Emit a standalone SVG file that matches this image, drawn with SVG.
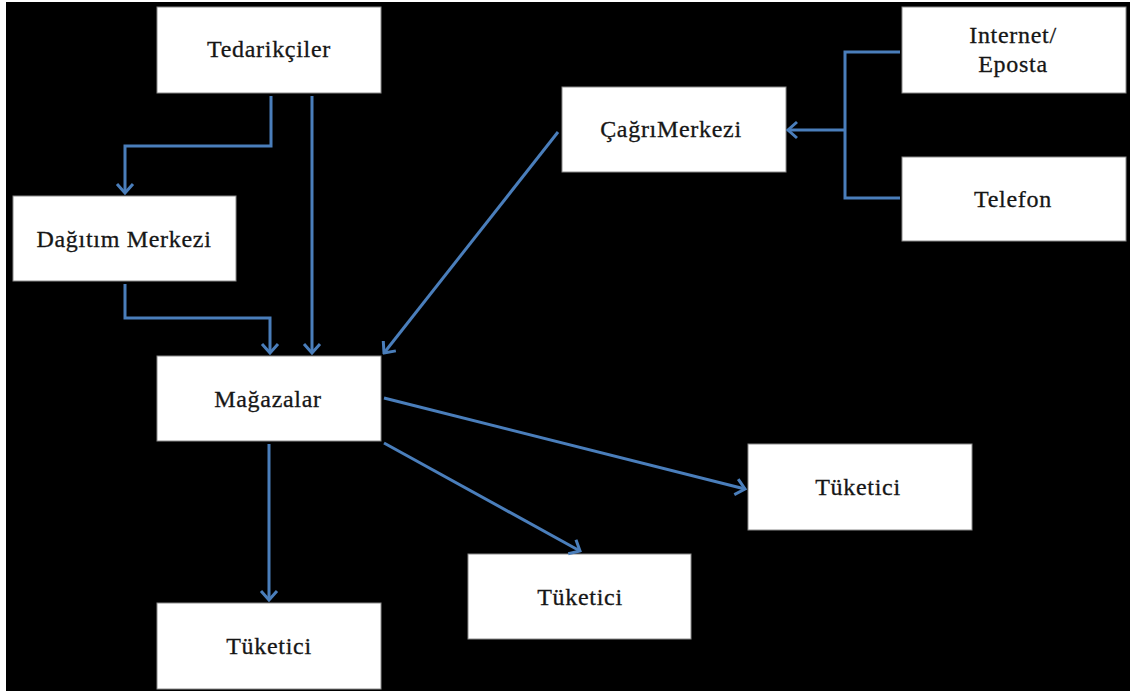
<svg xmlns="http://www.w3.org/2000/svg" width="1130" height="691" viewBox="0 0 1130 691">
  <style>
    .box { fill: #ffffff; stroke: #8a8a8a; stroke-width: 1; }
    .lbl { font-size: 24px; fill: #161616; stroke: #161616; stroke-width: 0.3; text-anchor: middle; letter-spacing: 0.7px; }
    .conn { fill: none; stroke: #4a7ebb; stroke-width: 3; }
  </style>
  <defs>
    <marker id="arr" viewBox="-11 -10 13 20" markerWidth="13" markerHeight="20" refX="0" refY="0" orient="auto" markerUnits="userSpaceOnUse">
      <path d="M-9,-8 L0,0 L-9,8" fill="none" stroke="#4a7ebb" stroke-width="3"/>
    </marker>
  </defs>
  <rect x="0" y="0" width="1130" height="691" fill="#ffffff"/>
  <rect x="6" y="2" width="1124" height="689" fill="#000000"/>

  <g id="nodes" font-family="Liberation Serif, DejaVu Serif, serif">
  <g id="n-tedarikciler">
    <rect class="box" x="157" y="7" width="224" height="86"/>
    <text class="lbl" x="269" y="57">Tedarikçiler</text>
  </g>
  <g id="n-dagitim">
    <rect class="box" x="13" y="196" width="223" height="85"/>
    <text class="lbl" x="124" y="247">Dağıtım Merkezi</text>
  </g>
  <g id="n-magazalar">
    <rect class="box" x="157" y="356" width="224" height="85"/>
    <text class="lbl" x="268" y="407">Mağazalar</text>
  </g>
  <g id="n-cagri">
    <rect class="box" x="562" y="87" width="224" height="85"/>
    <text class="lbl" x="671" y="137">ÇağrıMerkezi</text>
  </g>
  <g id="n-internet">
    <rect class="box" x="902" y="7" width="224" height="86"/>
    <text class="lbl" x="1013" y="43">Internet/</text>
    <text class="lbl" x="1013" y="72">Eposta</text>
  </g>
  <g id="n-telefon">
    <rect class="box" x="902" y="157" width="224" height="84"/>
    <text class="lbl" x="1013" y="207">Telefon</text>
  </g>
  <g id="n-tuketici-1">
    <rect class="box" x="157" y="603" width="224" height="86"/>
    <text class="lbl" x="269" y="654">Tüketici</text>
  </g>
  <g id="n-tuketici-2">
    <rect class="box" x="468" y="554" width="223" height="85"/>
    <text class="lbl" x="580" y="605">Tüketici</text>
  </g>
  <g id="n-tuketici-3">
    <rect class="box" x="748" y="444" width="224" height="86"/>
    <text class="lbl" x="858" y="495">Tüketici</text>
  </g>
  </g>

  <g id="connectors">
    <path class="conn" d="M271,96 V146 H125 V193" marker-end="url(#arr)"/>
    <path class="conn" d="M312,96 V353" marker-end="url(#arr)"/>
    <path class="conn" d="M125,284 V318 H270 V353" marker-end="url(#arr)"/>
    <path class="conn" d="M558,132 L384,353" marker-end="url(#arr)"/>
    <path class="conn" d="M900,52 H845 V198 H900"/>
    <path class="conn" d="M845,130 H788" marker-end="url(#arr)"/>
    <path class="conn" d="M269,444 V600" marker-end="url(#arr)"/>
    <path class="conn" d="M384,443 L580,551" marker-end="url(#arr)"/>
    <path class="conn" d="M384,398 L745,489" marker-end="url(#arr)"/>
  </g>
</svg>
